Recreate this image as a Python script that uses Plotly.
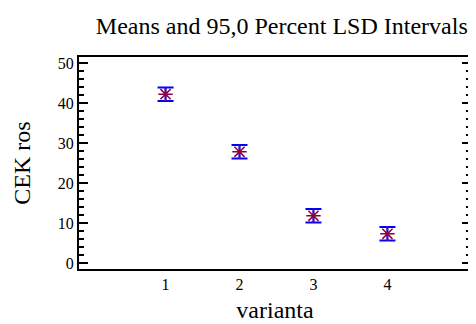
import plotly.graph_objects as go

varianta = [1, 2, 3, 4]
means = [42.2, 27.8, 11.8, 7.3]
lsd_half = [1.7, 1.7, 1.7, 1.7]
x_ticks = [1, 2, 3, 4]

fig = go.Figure()
fig.add_trace(go.Scatter(
    x=varianta, y=means, mode="markers",
    marker=dict(symbol="asterisk-open", size=12, color="#8B0045",
                line=dict(width=1.5, color="#8B0045")),
    error_y=dict(type="data", array=lsd_half, visible=True,
                 color="#0000FF", thickness=2, width=8),
    showlegend=False,
))

font_family = "Liberation Serif, Times New Roman, serif"
# page body has an 8px margin, so the figure is sized to fill the rest
fig.update_layout(
    width=468, height=316,
    margin=dict(l=71, r=3, t=49, b=55),
    paper_bgcolor="white", plot_bgcolor="white",
    font=dict(family=font_family, color="black", size=16),
    title=dict(text="Means and 95,0 Percent LSD Intervals",
               font=dict(size=24, family=font_family, color="black"),
               x=0.585, xanchor="center", y=0.945, yanchor="middle"),
)
fig.update_xaxes(
    range=[-0.17, 5.13], tickvals=x_ticks, ticktext=[str(t) for t in x_ticks],
    showgrid=False, zeroline=False, showline=True, linecolor="black",
    linewidth=2, mirror=True, ticks="",
    tickfont=dict(size=16),
    title=dict(text="varianta", font=dict(size=24), standoff=9),
)
fig.update_yaxes(
    range=[-1.5, 51.5], tickvals=[0, 10, 20, 30, 40, 50],
    showgrid=False, zeroline=False, showline=True, linecolor="black",
    linewidth=2, mirror="ticks", ticks="inside", ticklen=9, tickwidth=2,
    tickcolor="black",
    minor=dict(dtick=2, ticks="inside", ticklen=5, tickwidth=2, tickcolor="black"),
    tickfont=dict(size=16),
    title=dict(text="CEK ros", font=dict(size=24), standoff=20),
)
fig.write_html("out.html")
